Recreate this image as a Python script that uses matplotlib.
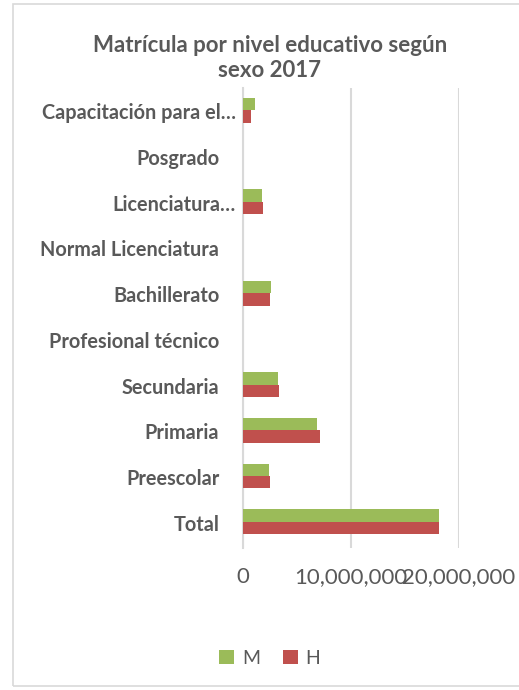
import matplotlib.pyplot as plt
import matplotlib.transforms as mtransforms
from matplotlib.patches import Rectangle
from matplotlib.ticker import FuncFormatter
import numpy as np

plt.rcParams['font.family'] = ['Lato', 'DejaVu Sans']

niveles = ["Total", "Preescolar", "Primaria", "Secundaria", "Profesional técnico",
           "Bachillerato", "Normal Licenciatura", "Licenciatura…", "Posgrado",
           "Capacitación para el…"]
mujeres = [18200000, 2410000, 6850000, 3240000, 0,
           2590000, 0, 1760000, 40000, 1110000]
hombres = [18150000, 2470000, 7130000, 3300000, 0,
           2500000, 0, 1850000, 40000, 740000]

gris = "#595959"
verde = "#9BBB59"
rojo = "#C0504D"

fig = plt.figure(figsize=(5.19, 6.90), dpi=100)
ax = fig.add_axes([0.468, 0.206, 0.416, 0.666])

y = np.arange(len(niveles))
h = 0.27
ax.barh(y + h / 2, mujeres, height=h, color=verde, label="M", zorder=3)
ax.barh(y - h / 2, hombres, height=h, color=rojo, label="H", zorder=3)

ax.set_xlim(0, 20000000)
ax.set_ylim(-0.57, 9.48)
ax.set_xticks([0, 10000000, 20000000])
ax.xaxis.set_major_formatter(FuncFormatter(lambda v, p: "{:,.0f}".format(v)))
ax.set_yticks(y)
ax.set_yticklabels([])
ax.tick_params(axis="both", length=0)
ax.tick_params(axis="x", labelsize=16, labelcolor=gris, pad=14)

# category labels drawn by hand: the truncated ones sit closer to the axis
base = ax.get_yaxis_transform()
for yi, nombre in zip(y, niveles):
    dx = -5 if nombre.endswith("…") else -17
    tr = base + mtransforms.ScaledTranslation(dx / 72, -2.2 / 72, fig.dpi_scale_trans)
    ax.text(0, yi, nombre, transform=tr, ha="right", va="center",
            fontsize=14.3, fontweight="bold", color=gris)

ax.grid(axis="x", color="#d9d9d9", linewidth=1.5, zorder=0)
for s in ["top", "right", "bottom"]:
    ax.spines[s].set_visible(False)
ax.spines["left"].set_color("#d9d9d9")
ax.spines["left"].set_linewidth(1.5)

fig.text(0.52, 0.916, "Matrícula por nivel educativo según\nsexo 2017",
         ha="center", va="center", fontsize=16, fontweight="bold",
         color=gris, linespacing=1.2)

fig.legend(loc="center", bbox_to_anchor=(0.52, 0.046), ncol=2, frameon=False,
           fontsize=14, labelcolor=gris, handlelength=0.75, handleheight=0.75,
           handletextpad=0.4, columnspacing=1.2)

fig.patches.append(Rectangle((13 / 519, 4 / 690), 1.1, 682 / 690,
                             transform=fig.transFigure, fill=False,
                             edgecolor="#d9d9d9", linewidth=1.2))

fig.savefig("out.png", dpi=100)
